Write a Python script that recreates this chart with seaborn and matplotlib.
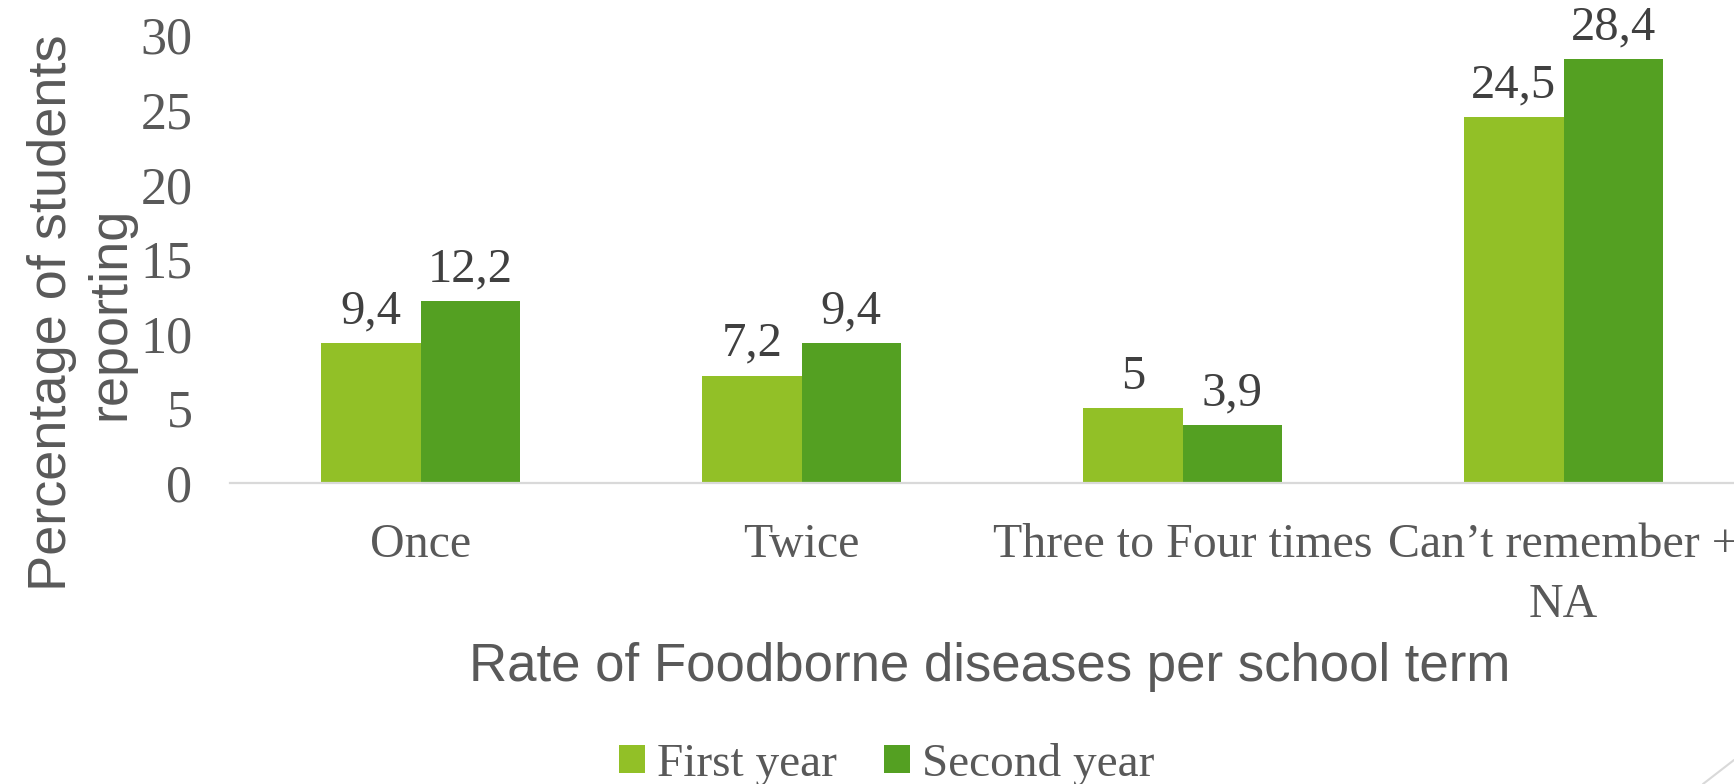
import matplotlib
matplotlib.use("Agg")
import matplotlib.pyplot as plt
from matplotlib.lines import Line2D
import seaborn as sns
import pandas as pd

# values
categories = ["Once", "Twice", "Three to Four times", "Can\u2019t remember +\nNA"]
series = ["First year", "Second year"]
first_year = [9.4, 7.2, 5.0, 24.5]
second_year = [12.2, 9.4, 3.9, 28.4]
y_ticks = [0, 5, 10, 15, 20, 25, 30]
colors = ["#92C027", "#54A022"]

TEXT = "#595959"
LABEL = "#404040"
SERIF = "Liberation Serif"
SANS = "Liberation Sans"


def fmt(v):
    # comma as decimal separator, drop trailing ,0
    s = f"{v:g}"
    return s.replace(".", ",")


def main():
    sns.set_theme(style="white")
    plt.rcParams["font.family"] = [SERIF, "DejaVu Serif"]

    df = pd.DataFrame({
        "category": categories * 2,
        "year": [series[0]] * 4 + [series[1]] * 4,
        "value": first_year + second_year,
    })

    fig = plt.figure(figsize=(17.34, 7.84), dpi=100)
    ax = fig.add_axes([230 / 1734, 301 / 784, 1 - 230 / 1734, 447.6 / 784])

    sns.barplot(
        data=df, x="category", y="value", hue="year",
        order=categories, hue_order=series, palette=colors,
        width=0.522, linewidth=0, saturation=1, ax=ax,
    )

    ax.set_ylim(0, 30)
    ax.set_xlim(-0.5, -0.5 + 1504 / 381)
    ax.set_yticks(y_ticks)
    ax.set_yticklabels([str(t) for t in y_ticks])

    for side in ["top", "right", "left"]:
        ax.spines[side].set_visible(False)
    ax.spines["bottom"].set_color("#d9d9d9")
    ax.spines["bottom"].set_linewidth(1.6)

    ax.tick_params(axis="y", length=0, pad=27, labelsize=37.5, labelcolor=TEXT)
    ax.tick_params(axis="x", length=0, pad=29, labelsize=34.5, labelcolor=TEXT)
    for lab in ax.get_xticklabels():
        lab.set_linespacing(1.45)

    # value labels on top of each bar
    for cont, vals in zip(ax.containers, [first_year, second_year]):
        ax.bar_label(cont, labels=[fmt(v) for v in vals], padding=7,
                     fontsize=35, color=LABEL, family=SERIF)

    ax.set_xlabel("Rate of Foodborne diseases per school term",
                  fontsize=38, color=TEXT, family=SANS)
    ax.xaxis.set_label_coords(0.505, -0.355)
    ax.set_ylabel("Percentage of students\nreporting",
                  fontsize=39, color=TEXT, family=SANS, linespacing=1.2)
    ax.yaxis.set_label_coords(-0.063, 0.38)

    handles, labels = ax.get_legend_handles_labels()
    ax.legend(handles, labels, loc="center", ncol=2, frameon=False,
              bbox_to_anchor=(887 / 1734, 20 / 784),
              bbox_transform=fig.transFigure,
              prop={"family": SERIF, "size": 34},
              labelcolor=TEXT, handlelength=0.55, handleheight=0.55,
              handletextpad=0.25, columnspacing=1.0)

    # small decorative slide stroke in the lower right corner
    fig.add_artist(Line2D([1703 / 1734, 1.0], [0.0, 24 / 784],
                          transform=fig.transFigure, color="#d9d9d9", lw=1.5))

    fig.savefig("out.png", dpi=100)


if __name__ == "__main__":
    main()
